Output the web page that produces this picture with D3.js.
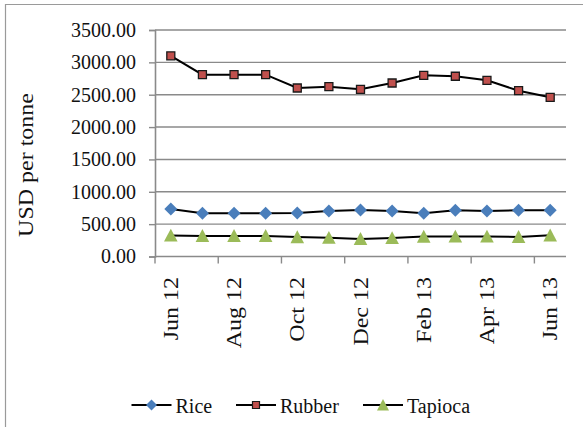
<!DOCTYPE html>
<html>
<head>
<meta charset="utf-8">
<script src="https://cdn.jsdelivr.net/npm/d3@7"></script>
<style>
  html, body { margin: 0; padding: 0; background: #fff; }
  svg { display: block; }
  svg text { font-family: "Liberation Serif", "Times New Roman", Times, serif !important; }
</style>
</head>
<body>
<svg id="chart" width="583" height="427"></svg>
<script>
const months = ["Jun 12","Jul 12","Aug 12","Sep 12","Oct 12","Nov 12","Dec 12","Jan 13","Feb 13","Mar 13","Apr 13","May 13","Jun 13"];
const rice    = [734, 667, 667, 667, 672, 703, 718, 703, 667, 714, 703, 714, 714];
const rubber  = [3100, 2810, 2810, 2810, 2604, 2624, 2583, 2681, 2800, 2785, 2722, 2562, 2460];
const tapioca = [325, 318, 318, 318, 300, 290, 272, 286, 308, 310, 310, 303, 327];
const yTicks  = [0, 500, 1000, 1500, 2000, 2500, 3000, 3500];
const seriesNames = ["Rice", "Rubber", "Tapioca"];

(function () {
const svg = d3.select("#chart");
const W = 583, H = 427;
const pLeft = 155, pRight = 566, pTop = 30, pBottom = 256.5;

// outer chart border
svg.append("path")
  .attr("d", `M5.5,${H} L5.5,4.5 L${W},4.5`)
  .attr("fill", "none").attr("stroke", "#9a9a9a").attr("stroke-width", 1.2);

const x = d3.scaleBand().domain(months).range([pLeft, pRight]).padding(0);
const y = d3.scaleLinear().domain([0, 3500]).range([pBottom, pTop]);
const cx = d => x(d) + x.bandwidth() / 2;

// gridlines
svg.append("g").selectAll("line").data(yTicks.filter(t => t > 0)).join("line")
  .attr("x1", pLeft).attr("x2", pRight)
  .attr("y1", d => y(d)).attr("y2", d => y(d))
  .attr("stroke", "#8a8a8a").attr("stroke-width", 1.4);

// y axis
const yAxis = d3.axisLeft(y).tickValues(yTicks).tickSize(6).tickPadding(13)
  .tickFormat(d => d3.format(".2f")(d));
const gy = svg.append("g").attr("transform", `translate(${pLeft},0)`).call(yAxis);
gy.select(".domain").attr("stroke", "#8a8a8a").attr("stroke-width", 1.6);
gy.selectAll(".tick line").attr("stroke", "#8a8a8a").attr("stroke-width", 1.4);
gy.selectAll(".tick text").attr("font-size", 20).attr("fill", "#111");

// x axis line
svg.append("line").attr("x1", pLeft).attr("x2", pRight).attr("y1", pBottom).attr("y2", pBottom)
  .attr("stroke", "#8a8a8a").attr("stroke-width", 1.6);
// x ticks at every second category boundary
svg.append("g").selectAll("line").data(months.filter((m, i) => i % 2 === 0)).join("line")
  .attr("x1", d => x(d)).attr("x2", d => x(d))
  .attr("y1", pBottom).attr("y2", pBottom + 7)
  .attr("stroke", "#8a8a8a").attr("stroke-width", 1.4);
// x labels rotated
svg.append("g").selectAll("text").data(months.filter((m, i) => i % 2 === 0)).join("text")
  .attr("transform", d => `translate(${cx(d)},${pBottom + 20.5}) rotate(-90) scale(1.2,1)`)
  .attr("text-anchor", "end").attr("dy", "0.35em")
  .attr("font-size", 20).attr("fill", "#111")
  .text(d => d);

// y title
svg.append("text")
  .attr("transform", `translate(33,165) rotate(-90) scale(1.2,1)`)
  .attr("text-anchor", "middle")
  .attr("font-size", 20).attr("fill", "#111")
  .text("USD per tonne");

// marker shapes
const diamond = s => `M0,${-s} L${s},0 L0,${s} L${-s},0 Z`;
const square = s => `M${-s},${-s} H${s} V${s} H${-s} Z`;
const triangle = s => `M0,${-s} L${s},${s * 0.9} L${-s},${s * 0.9} Z`;

const series = [
  { name: seriesNames[0], values: rice, path: diamond(6.5), fill: "#4a7ebb", stroke: "none", lpath: diamond(5.5) },
  { name: seriesNames[1], values: rubber, path: square(4), fill: "#c0504d", stroke: "#1a1a1a", lpath: square(3.5) },
  { name: seriesNames[2], values: tapioca, path: triangle(6.8), fill: "#9bbb59", stroke: "none", lpath: triangle(6) }
];

const line = d3.line().x((d, i) => cx(months[i])).y(d => y(d));

series.forEach(s => {
  svg.append("path").datum(s.values).attr("d", line)
    .attr("fill", "none").attr("stroke", "#000").attr("stroke-width", 2);
  svg.append("g").selectAll("path").data(s.values).join("path")
    .attr("transform", (d, i) => `translate(${cx(months[i])},${y(d)})`)
    .attr("d", s.path).attr("fill", s.fill)
    .attr("stroke", s.stroke).attr("stroke-width", 1.3);
});

// legend
const legendX = [131.5, 236, 363];
const legY = 405;
series.forEach((s, i) => {
  const g = svg.append("g").attr("transform", `translate(${legendX[i]},${legY})`);
  g.append("line").attr("x1", 0).attr("x2", 40).attr("y1", 0).attr("y2", 0)
    .attr("stroke", "#000").attr("stroke-width", 2);
  g.append("path").attr("transform", "translate(20,0)").attr("d", s.lpath)
    .attr("fill", s.fill).attr("stroke", s.stroke).attr("stroke-width", 1.2);
  g.append("text").attr("x", 44).attr("y", 7.5)
    .attr("font-size", 20).attr("fill", "#111").text(s.name);
});
})();
</script>
</body>
</html>
